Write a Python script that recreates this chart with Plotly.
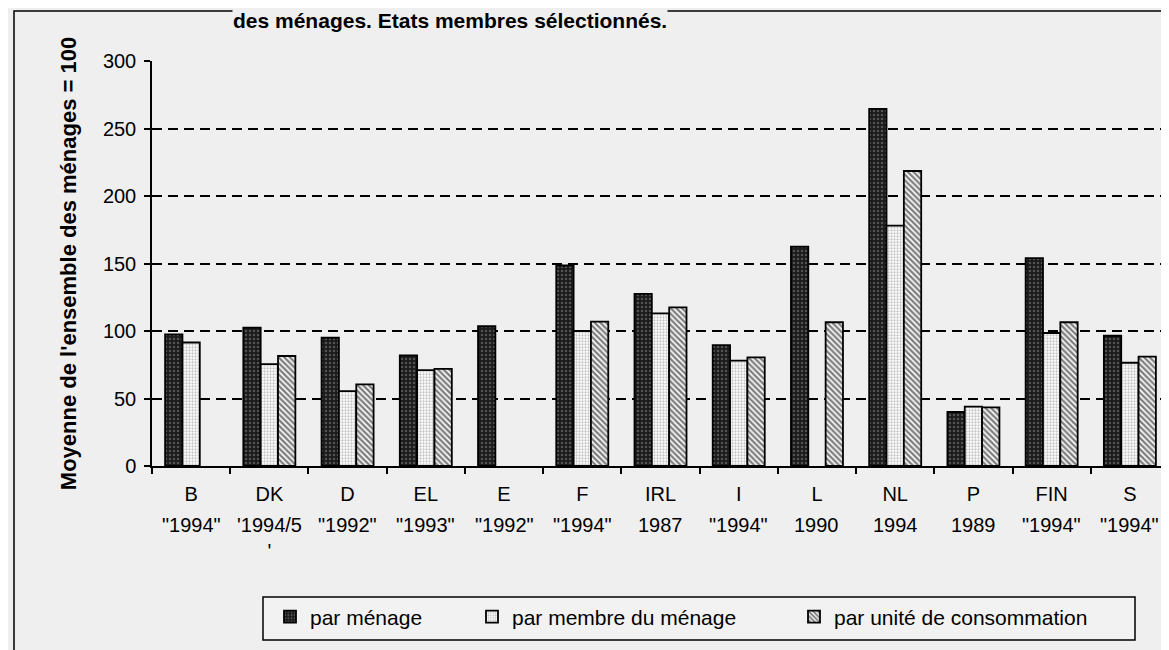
import plotly.graph_objects as go

countries = ["B", "DK", "D", "EL", "E", "F", "IRL", "I", "L", "NL", "P", "FIN", "S"]
years = ['"1994"', "'1994/5<br>'", '"1992"', '"1993"', '"1992"', '"1994"', "1987",
         '"1994"', "1990", "1994", "1989", '"1994"', '"1994"']
par_menage = [97.5, 102.5, 95, 82, 103.5, 148.5, 127.5, 89.5, 162.5, 264.5, 40, 154, 96.5]
par_membre = [91.5, 75.5, 55.5, 71, None, 100, 113, 78, None, 178, 44, 98.5, 76.5]
par_unite = [None, 81.5, 60.5, 72, None, 107, 117.5, 80.5, 106.5, 218.5, 43.5, 106.5, 81]
series_names = ["par ménage", "par membre du ménage", "par unité de consommation"]
y_ticks = [0, 50, 100, 150, 200, 250, 300]

FONT = "Liberation Sans, Arial, sans-serif"
BG = "#efefef"
W, H = 1169, 650
OFF = 8  # page offset of the figure inside the browser window
# plot area in window pixels
SL, SR, ST, SB = 152, 1169, 61, 466
L, R, T = SL - OFF, W - (SR - OFF), ST - OFF
B = H - (SB - OFF)
PW, PH = W - L - R, H - T - B


def px(sx):
    return (sx - OFF - L) / PW


def py(sy):
    return (SB - sy) / PH


def cx(sx):
    return (sx - OFF) / W


def cy(sy):
    return 1 - (sy - OFF) / H


styles = [
    dict(color="#222222", pattern=dict(shape=".", fgcolor="#8c8c8c", bgcolor="#1a1a1a", size=4, solidity=0.3)),
    dict(color="#ffffff", pattern=dict(shape=".", fgcolor="#8a8a8a", bgcolor="#ffffff", size=3, solidity=0.45)),
    dict(color="#ffffff", pattern=dict(shape="\\", fgcolor="#000000", bgcolor="#ffffff", size=4, solidity=0.6)),
]

fig = go.Figure()
for i, (name, vals) in enumerate(zip(series_names, [par_menage, par_membre, par_unite])):
    fig.add_trace(go.Bar(
        x=countries, y=vals, name=name, showlegend=True,
        marker=dict(color=styles[i]["color"], pattern=styles[i]["pattern"],
                    line=dict(color="#000000", width=1.8)),
        legend="legend" if i == 0 else f"legend{i+1}",
    ))

leg_common = dict(orientation="h", yref="container", xref="container",
                  yanchor="middle", y=cy(617), xanchor="left",
                  bgcolor="rgba(0,0,0,0)", borderwidth=0,
                  font=dict(family=FONT, size=21, color="#000"))

year_annotations = [
    dict(text=y, x=c, xref="x", yref="paper", y=py(512), xanchor="center", yanchor="top",
         showarrow=False, font=dict(family=FONT, size=20, color="#000"))
    for c, y in zip(countries, years)
]

fig.update_layout(
    width=W, height=H,
    margin=dict(l=L, r=R, t=T, b=B, autoexpand=False),
    paper_bgcolor=BG, plot_bgcolor=BG,
    showlegend=True,
    barmode="group", bargap=0.335, bargroupgap=0,
    font=dict(family=FONT, color="#000"),
    legend=dict(x=cx(270), **leg_common),
    legend2=dict(x=cx(472), **leg_common),
    legend3=dict(x=cx(794), **leg_common),
    xaxis=dict(type="category", showline=True, linecolor="#000", linewidth=1.5, automargin=False,
               ticks="outside", tickson="boundaries", ticklen=6, tickcolor="#000", tickwidth=1.5,
               ticklabelstandoff=9,
               tickfont=dict(family=FONT, size=20, color="#000"), showgrid=False),
    yaxis=dict(range=[0, 300], tickvals=y_ticks, showline=True, linecolor="#000", linewidth=1.5,
               automargin=False,
               ticks="outside", ticklen=6, tickcolor="#000", tickwidth=1.5,
               tickfont=dict(family=FONT, size=20, color="#000"), ticklabelstandoff=4,
               showgrid=True, gridcolor="#000", gridwidth=2, griddash="10px,6px",
               zeroline=False,
               title=dict(text="<b>Moyenne de l'ensemble des ménages = 100</b>",
                          font=dict(family=FONT, size=22, color="#000"), standoff=20)),
    shapes=[
        dict(type="rect", xref="paper", yref="paper", x0=px(14), x1=px(1190), y0=py(690), y1=py(11),
             line=dict(color="#000", width=1.5), fillcolor="rgba(0,0,0,0)", layer="below"),
        dict(type="rect", xref="paper", yref="paper", x0=px(263), x1=px(1135), y0=py(640), y1=py(597),
             line=dict(color="#000", width=1.5), fillcolor="#f2f2f2", layer="below"),
    ],
    annotations=year_annotations + [
        dict(text="<b>des ménages. Etats membres sélectionnés.</b>", xref="paper", yref="paper",
             x=px(232), y=py(OFF), xanchor="left", yanchor="top", showarrow=False,
             bgcolor=BG, borderpad=0,
             font=dict(family=FONT, size=21, color="#000")),
    ],
)

fig.write_html("out.html")
